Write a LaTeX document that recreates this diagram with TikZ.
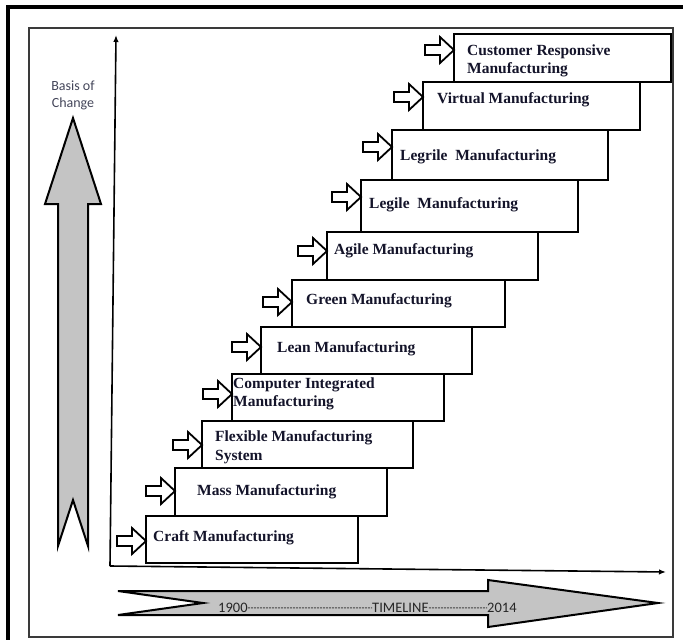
\documentclass[tikz,border=0pt]{standalone}
\usepackage{fontspec}
\setmainfont{Liberation Serif}
\newfontfamily\carlito{Carlito}
\usetikzlibrary{arrows.meta}
\definecolor{fillgray}{HTML}{C4C4C4}
\definecolor{labelink}{HTML}{14142A}
\definecolor{sansink}{HTML}{44465A}
\definecolor{frameink}{HTML}{3A3A3A}
\begin{document}
\begin{tikzpicture}[x=1pt,y=-1pt,
  stepbox/.style={draw=black, line width=2.4pt, fill=white, inner sep=0pt, outer sep=0pt, anchor=north west},
  steptext/.style={font=\fontsize{15.5}{18}\selectfont\bfseries, text=labelink, inner sep=0pt, anchor=base west},
  smallarr/.style={draw=black, line width=1.8pt, fill=white, line join=miter},
  bigarr/.style={draw=black, line width=2pt, fill=fillgray, line join=miter},
  axisline/.style={line width=1.6pt, -{Latex[length=7pt,width=5.5pt]}},
  sanstext/.style={font=\carlito\fontsize{14}{17}\selectfont, text=sansink, inner sep=0pt, anchor=base},
  tltext/.style={font=\carlito\fontsize{14.5}{17}\selectfont, text=black!85, inner sep=0pt, anchor=base west},
  tldash/.style={line width=0.8pt, black!75, dash pattern=on 2pt off 1pt},
  pics/inarrow/.style={code={\draw[smallarr] (-29,-5) -- (-14,-5) -- (-14,-13) -- (0,0) -- (-14,13) -- (-14,5) -- (-29,5) -- cycle;}}
]
\useasboundingbox (0,0) rectangle (683,640);

% frames
\draw[line width=3.5pt] (8,7) rectangle (686,642);
\draw[line width=2pt, frameink] (29,28) rectangle (673,637);

% axes
\coordinate (O) at (110,566);
\coordinate (ytip) at (116,35);
\coordinate (xtip) at (666,572);
\draw[axisline] (O) -- (ytip);
\draw[axisline] (O) -- (xtip);

% basis of change arrow
\draw[bigarr] (73,118) -- (101,204) -- (88,204) -- (88,546) -- (73,500) -- (58,546) -- (58,204) -- (45,204) -- cycle;
\node[sanstext] (bc1) at (73,90.5) {Basis of};
\node[sanstext] (bc2) at (73,107.5) {Change};

% timeline arrow
\draw[bigarr] (118,591) -- (488,591) -- (488,580) -- (658,603) -- (488,627) -- (488,615) -- (118,615) -- (203,603) -- cycle;
\node[tltext] (tl1) at (218,612.5) {1900};
\node[tltext] (tl2) at (372,612.5) {TIMELINE};
\node[tltext] (tl3) at (487,612.5) {2014};
\draw[tldash] (tl1.east) -- (tl2.west);
\draw[tldash] (tl2.east) -- (tl3.west);

% steps
\node[stepbox, minimum width=212pt, minimum height=47pt] (b1) at (146,516) {};
\node[stepbox, minimum width=212pt, minimum height=48pt] (b2) at (175,468) {};
\node[stepbox, minimum width=211pt, minimum height=47pt] (b3) at (202,421) {};
\node[stepbox, minimum width=212pt, minimum height=47pt] (b4) at (232,374) {};
\node[stepbox, minimum width=211pt, minimum height=47pt] (b5) at (261,327) {};
\node[stepbox, minimum width=213pt, minimum height=47pt] (b6) at (292,280) {};
\node[stepbox, minimum width=211pt, minimum height=48pt] (b7) at (327,232) {};
\node[stepbox, minimum width=217pt, minimum height=52pt] (b8) at (361,180) {};
\node[stepbox, minimum width=216pt, minimum height=50pt] (b9) at (392,130) {};
\node[stepbox, minimum width=217pt, minimum height=48pt] (b10) at (423,82) {};
\node[stepbox, minimum width=217pt, minimum height=48pt] (b11) at (454,34) {};

\pic at (b1.west |- 0,541) {inarrow};
\pic at (b2.west |- 0,491) {inarrow};
\pic at (b3.west |- 0,445) {inarrow};
\pic at (b4.west |- 0,394) {inarrow};
\pic at (b5.west |- 0,347) {inarrow};
\pic at (b6.west |- 0,302) {inarrow};
\pic at (b7.west |- 0,251) {inarrow};
\pic at (b8.west |- 0,197) {inarrow};
\pic at (b9.west |- 0,147) {inarrow};
\pic at (b10.west |- 0,97) {inarrow};
\pic at (b11.west |- 0,50) {inarrow};

\node[steptext] (t1) at (153,541.5) {Craft Manufacturing};
\node[steptext] (t2) at (197,495.5) {Mass Manufacturing};
\node[steptext] (t3a) at (215,441.5) {Flexible Manufacturing};
\node[steptext] (t3b) at (215,460.5) {System};
\node[steptext] (t4a) at (233,388.5) {Computer Integrated};
\node[steptext] (t4b) at (233,406.5) {Manufacturing};
\node[steptext] (t5) at (277,352.5) {Lean Manufacturing};
\node[steptext] (t6) at (306,304.5) {Green Manufacturing};
\node[steptext] (t7) at (334,254.5) {Agile Manufacturing};
\node[steptext] (t8) at (369,208.5) {Legile\hspace{0.25em} Manufacturing};
\node[steptext] (t9) at (400,160.5) {Legrile\hspace{0.25em} Manufacturing};
\node[steptext] (t10) at (437,103.5) {Virtual Manufacturing};
\node[steptext] (t11a) at (467,55.5) {Customer Responsive};
\node[steptext] (t11b) at (467,73.5) {Manufacturing};
\end{tikzpicture}
\end{document}
